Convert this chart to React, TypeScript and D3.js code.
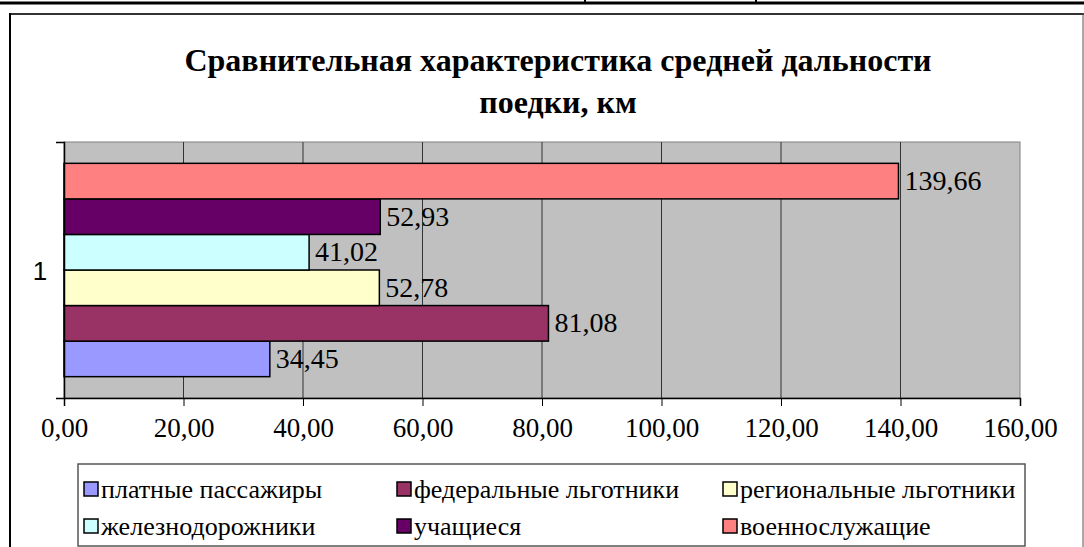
import React, { useRef, useEffect } from "react";
import * as d3 from "d3";

// series in legend order
const seriesNames = [
  "платные пассажиры",
  "федеральные льготники",
  "региональные льготники",
  "железнодорожники",
  "учащиеся",
  "военнослужащие",
];
const seriesValues = [34.45, 81.08, 52.78, 41.02, 52.93, 139.66];
const seriesColors = ["#9999FF", "#993366", "#FFFFCC", "#CCFFFF", "#660066", "#FF8080"];
const categories = ["1"];
const xTicks = [0, 20, 40, 60, 80, 100, 120, 140, 160];
const titleLines = ["Сравнительная характеристика средней дальности", "поедки, км"];

const W = 1084;
const H = 547;
const serif = '"Liberation Serif", "Times New Roman", Tinos, "DejaVu Serif", serif';
const sans = '"Liberation Sans", Arial, sans-serif';
const fmt = (v: number) => v.toFixed(2).replace(".", ",");

const App = () => {
  const ref = useRef<SVGSVGElement>(null);

  useEffect(() => {
    const svg = d3.select(ref.current);
    svg.selectAll("*").remove();

    const plot = { left: 64, right: 1020, top: 142, bottom: 398 };

    // page lines above the chart frame
    svg.append("line").attr("x1", 0).attr("x2", W).attr("y1", 3).attr("y2", 3)
      .attr("stroke", "#000").attr("stroke-width", 3);
    [585, 756].forEach((x) => {
      svg.append("line").attr("x1", x).attr("x2", x).attr("y1", 0).attr("y2", 3)
        .attr("stroke", "#000").attr("stroke-width", 2);
    });

    // chart frame
    svg.append("line").attr("x1", 9).attr("x2", W).attr("y1", 14).attr("y2", 14)
      .attr("stroke", "#333").attr("stroke-width", 2);
    svg.append("line").attr("x1", 10).attr("x2", 10).attr("y1", 13).attr("y2", H)
      .attr("stroke", "#000").attr("stroke-width", 2);
    svg.append("line").attr("x1", W - 1).attr("x2", W - 1).attr("y1", 13).attr("y2", H)
      .attr("stroke", "#555").attr("stroke-width", 1);

    // title
    const title = svg.append("text").attr("text-anchor", "middle")
      .style("font-family", serif).style("font-weight", "bold").style("font-size", "32px");
    titleLines.forEach((t, i) => {
      title.append("tspan").attr("x", 558).attr("y", 71 + i * 42).text(t);
    });

    // scales
    const x = d3.scaleLinear().domain([0, 160]).range([plot.left, plot.right]);
    const y0 = d3.scaleBand().domain(categories).range([plot.top, plot.bottom])
      .paddingOuter(0.1);
    const order = seriesNames.slice().reverse();
    const y1 = d3.scaleBand().domain(order).range([0, y0.bandwidth()]);

    // plot area
    svg.append("rect").attr("x", plot.left).attr("y", plot.top)
      .attr("width", plot.right - plot.left).attr("height", plot.bottom - plot.top)
      .attr("fill", "#C0C0C0").attr("stroke", "#808080").attr("stroke-width", 1);

    // gridlines
    svg.append("g").selectAll("line").data(xTicks.slice(1, -1)).enter().append("line")
      .attr("x1", (d) => x(d)).attr("x2", (d) => x(d))
      .attr("y1", plot.top).attr("y2", plot.bottom)
      .attr("stroke", "#333").attr("stroke-width", 1);

    // bars
    const g = svg.append("g").attr("transform", `translate(0,${y0("1")})`);
    seriesNames.forEach((name, i) => {
      const v = seriesValues[i];
      g.append("rect").attr("x", x(0)).attr("y", y1(name)!)
        .attr("width", x(v) - x(0)).attr("height", y1.bandwidth())
        .attr("fill", seriesColors[i]).attr("stroke", "#000").attr("stroke-width", 1.5);
      g.append("text").attr("x", x(v) + 6).attr("y", y1(name)! + y1.bandwidth() / 2 + 9)
        .style("font-family", serif).style("font-size", "28px").attr("fill", "#000")
        .text(fmt(v));
    });

    // x axis
    const xAxis = d3.axisBottom(x).tickValues(xTicks).tickSize(8).tickPadding(12)
      .tickFormat((d) => fmt(+d));
    const ax = svg.append("g").attr("transform", `translate(0,${plot.bottom})`).call(xAxis);
    ax.select(".domain").attr("stroke", "#000").attr("stroke-width", 1.5);
    ax.selectAll(".tick line").attr("stroke", "#000");
    ax.attr("font-family", null).attr("font-size", null);
    ax.selectAll(".tick text").style("font-family", serif).style("font-size", "27px")
      .attr("fill", "#000");

    // y axis
    const yAxis = d3.axisLeft(d3.scaleLinear().domain([0, 1]).range([plot.bottom, plot.top]))
      .tickValues([0, 1]).tickSize(8).tickFormat(() => "");
    const ay = svg.append("g").attr("transform", `translate(${plot.left},0)`).call(yAxis);
    ay.select(".domain").attr("stroke", "#000").attr("stroke-width", 1.5);
    ay.selectAll(".tick line").attr("stroke", "#000");
    svg.append("text").attr("x", 40).attr("y", y0("1")! + y0.bandwidth() / 2 + 10)
      .attr("text-anchor", "middle").style("font-family", sans).style("font-size", "26px")
      .text(categories[0]);

    // legend
    const legend = svg.append("g");
    legend.append("rect").attr("x", 78).attr("y", 464).attr("width", 947).attr("height", 82)
      .attr("fill", "#fff").attr("stroke", "#555").attr("stroke-width", 1.5);
    const colX = [84, 397, 723];
    const rowY = [489, 526];
    seriesNames.forEach((name, i) => {
      const cx = colX[i % 3];
      const cy = rowY[Math.floor(i / 3)];
      legend.append("rect").attr("x", cx).attr("y", cy - 7).attr("width", 14).attr("height", 14)
        .attr("fill", seriesColors[i]).attr("stroke", "#000").attr("stroke-width", 1.5);
      legend.append("text").attr("x", cx + 17).attr("y", cy + 9)
        .style("font-family", serif).style("font-size", "26px").text(name);
    });
  }, []);

  return (
    <svg ref={ref} width={W} height={H}
      style={{ position: "absolute", left: 0, top: 0, background: "#fff" }} />
  );
};

export default App;
